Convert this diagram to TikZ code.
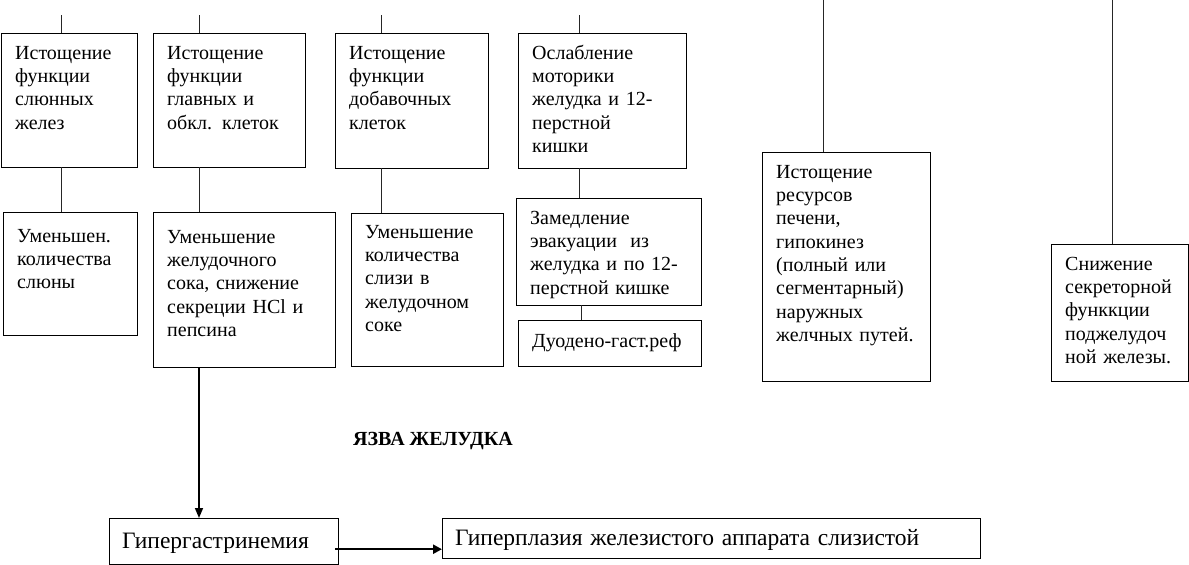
\documentclass[tikz,border=0pt]{standalone}
\usepackage{fontspec}
\setmainfont{Liberation Serif}
\usepackage{tikz}
\usetikzlibrary{arrows.meta,positioning}

\tikzset{
  cell/.style={draw, anchor=north west, align=left, inner xsep=14pt, inner ysep=0pt,
    text height=26pt, font=\fontsize{20}{23.3}\selectfont},
  bigcell/.style={draw, anchor=north west, align=left, inner xsep=13pt, inner ysep=0pt,
    font=\fontsize{23.5}{28}\selectfont},
  link/.style={draw=black!85, line width=1pt},
  arrow/.style={line width=1.6pt, -{Triangle[length=10pt,width=8pt]}},
}

\begin{document}
\begin{tikzpicture}[x=1pt,y=-1pt]
    \useasboundingbox (0,0) rectangle (1189,565);
    % top row
    \node (slun) [cell, text width=108pt, text depth=108pt] at (1,33) {Истощение\\функции\\слюнных\\желез};
    \node (glav) [cell, text width=124pt, text depth=108pt] at (153,33) {Истощение\\функции\\главных и\\обкл. клеток};
    \node (dob) [cell, text width=125pt, text depth=109pt] at (335,33) {Истощение\\функции\\добавочных\\клеток};
    \node (motor) [cell, text width=140pt, text depth=109pt] at (518,33) {Ослабление\\моторики\\желудка и 12-\\перстной\\кишки};
    % second row
    \node (slyuna) [cell, text width=106pt, text height=30pt, text depth=93pt] at (3,212) {Уменьшен.\\количества\\слюны};
    \node (sok) [cell, text width=154pt, text height=31pt, text depth=124pt] at (153,212) {Уменьшение\\желудочного\\сока, снижение\\секреции HCl и\\пепсина};
    \node (sliz) [cell, text width=124pt, text height=25pt, text depth=128pt] at (351,213) {Уменьшение\\количества\\слизи в\\желудочном\\соке};
    \node (evak) [cell, text width=157pt, text depth=81pt] at (516,198) {Замедление\\эвакуации~ из\\желудка и по 12-\\перстной кишке};
    \node (reflux) [cell, text width=155pt, text height=27pt, text depth=19pt] at (518,320) {Дуодено-гаст.реф};
    % right side
    \node (pechen) [cell, text width=140pt, text depth=203pt] at (762,152) {Истощение\\ресурсов\\печени,\\гипокинез\\(полный или\\сегментарный)\\наружных\\желчных путей.};
    \node (podzh) [cell, text width=109pt, text depth=111pt] at (1051,244) {Снижение\\секреторной\\функкции\\поджелудоч\\ной железы.};
    % bottom
    \node (title) [font=\fontsize{20}{24}\selectfont\bfseries] at (433,441) {ЯЗВА ЖЕЛУДКА};
    \node (hyper) [bigcell, text width=203pt, text height=30pt, text depth=16pt] at (109,518) {Гипергастринемия};
    \node (plasia) [bigcell, text width=512pt, text height=27pt, text depth=13pt] at (442,518) {Гиперплазия железистого аппарата слизистой};

    \coordinate (c1) at (61,15);
    \coordinate (c2) at (199,15);
    \coordinate (c3) at (381,15);
    \coordinate (c4) at (579,15);
    \coordinate (c5) at (823,0);
    \coordinate (c6) at (1112,0);

    \draw[link] (c1) -- (c1 |- slun.north);
    \draw[link] (c2) -- (c2 |- glav.north);
    \draw[link] (c3) -- (c3 |- dob.north);
    \draw[link] (c4) -- (c4 |- motor.north);
    \draw[link] (c5) -- (c5 |- pechen.north);
    \draw[link] (c6) -- (c6 |- podzh.north);

    \draw[link] (c1 |- slun.south) -- (c1 |- slyuna.north);
    \draw[link] (c2 |- glav.south) -- (c2 |- sok.north);
    \draw[link] (c3 |- dob.south) -- (c3 |- sliz.north);
    \draw[link] (c4 |- motor.south) -- (c4 |- evak.north);
    \draw[link] ([xshift=2pt]c4 |- evak.south) -- ([xshift=2pt]c4 |- reflux.north);

    \draw[arrow] (c2 |- sok.south) -- (c2 |- hyper.north);
    \draw[arrow, line width=2.5pt, -{Triangle[length=9pt,width=9pt]}] ([xshift=-3pt,yshift=-8pt]hyper.east) -- ([yshift=-8pt]hyper.east -| plasia.west);
\end{tikzpicture}
\end{document}
